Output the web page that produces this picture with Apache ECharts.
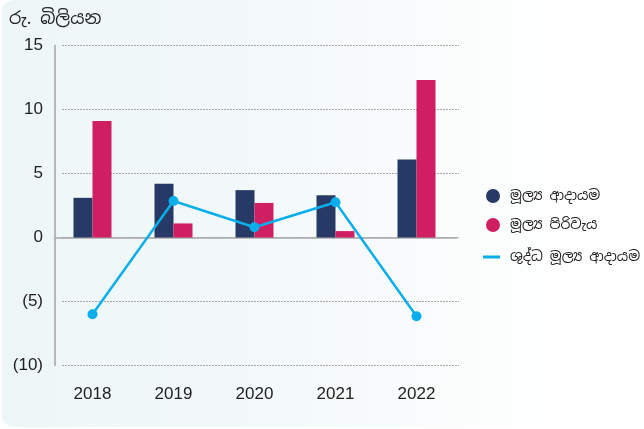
<!DOCTYPE html>
<html>
<head>
<meta charset="utf-8">
<script src="https://cdn.jsdelivr.net/npm/echarts@6/dist/echarts.min.js"></script>
<style>
html,body{margin:0;padding:0;background:#ffffff;}
#panel{position:absolute;left:2px;top:0;width:642px;height:427px;border-radius:12px;
background:linear-gradient(90deg,#edf6f6 0%,#f4f9fa 45%,#fdfefe 80%,#ffffff 100%);}
#chart{position:absolute;left:0;top:0;width:644px;height:429px;}
</style>
</head>
<body>
<div id="panel"></div>
<div id="chart"></div>
<script>
const categories = ['2018', '2019', '2020', '2021', '2022'];
const financeIncome = [3.1, 4.2, 3.7, 3.3, 6.1];
const financeCost = [9.1, 1.1, 2.7, 0.5, 12.3];
const netFinanceIncome = [-6.0, 2.85, 0.8, 2.75, -6.15];
const yTicks = { min: -10, max: 15, interval: 5 };
const seriesNames = ['මූල්\u200Dය ආදායම', 'මූල්\u200Dය පිරිවැය', 'ශුද්ධ මූල්\u200Dය ආදායම'];
const unitLabel = 'රු. බිලියන';

const numFont = '"Liberation Sans", Arial, sans-serif';
const sinFont = '"Noto Sans Sinhala", "Noto Sans", "Liberation Sans", sans-serif';
const NAVY = '#273a66', PINK = '#d01e62', BLUE = '#0aaeea';

function fmt(v){ return v < 0 ? '(' + Math.abs(v) + ')' : String(v); }

const chart = echarts.init(document.getElementById('chart'), null, {renderer:'canvas'});
chart.setOption({
  backgroundColor: 'transparent',
  animation: false,
  title: {
    text: unitLabel, left: 4, top: 5,
    textStyle: { fontFamily: sinFont, fontSize: 17.5, fontWeight: 'normal', color: '#222' }
  },
  grid: [
    { left: 52, width: 405, top: 45.5, height: 320 },
    { left: 62, width: 397, top: 45.5, height: 320 },
    { left: 55, width: 402, top: 45.5, height: 320 }
  ],
  xAxis: [
    { gridIndex: 0, type: 'category', data: categories,
      axisLine: { show: false, onZero: false }, axisTick: { show: false },
      axisLabel: { margin: 20, fontFamily: numFont, fontSize: 17, color: '#222' } },
    { gridIndex: 1, type: 'category', data: categories, show: false },
    { gridIndex: 2, type: 'category', data: categories,
      axisLine: { show: true, onZero: true, lineStyle: { color: '#a6a6a6', width: 1.5 } },
      axisTick: { show: false }, axisLabel: { show: false } }
  ],
  yAxis: [
    { gridIndex: 0, type: 'value', min: yTicks.min, max: yTicks.max, interval: yTicks.interval,
      axisLine: { show: false }, axisTick: { show: false }, splitLine: { show: false },
      axisLabel: { margin: 9, formatter: fmt, fontFamily: numFont, fontSize: 17, color: '#222' } },
    { gridIndex: 1, type: 'value', min: yTicks.min, max: yTicks.max, interval: yTicks.interval,
      axisLine: { show: false }, axisTick: { show: false }, axisLabel: { show: false },
      splitLine: { show: true, lineStyle: { color: '#a9a9a9', width: 1, type: [2, 1] } } },
    { gridIndex: 2, type: 'value', min: yTicks.min, max: yTicks.max, interval: yTicks.interval,
      axisLine: { show: true, lineStyle: { color: '#a6a6a6', width: 1.5 } },
      axisTick: { show: false }, axisLabel: { show: false }, splitLine: { show: false } }
  ],
  legend: [
    { data: [{ name: seriesNames[0], icon: 'circle' }, { name: seriesNames[1], icon: 'circle' }],
      orient: 'vertical', left: 481, top: 183, itemWidth: 14, itemHeight: 14, itemGap: 13,
      textStyle: { fontFamily: sinFont, fontSize: 14, color: '#222', padding: [0, 0, 0, 5], lineHeight: 16 } },
    { data: [{ name: seriesNames[2], icon: 'rect' }],
      orient: 'vertical', left: 478, top: 244, itemWidth: 17, itemHeight: 3,
      textStyle: { fontFamily: sinFont, fontSize: 14, color: '#222', padding: [0, 0, 0, 5], lineHeight: 16 } }
  ],
  series: [
    { name: seriesNames[0], type: 'bar', xAxisIndex: 0, yAxisIndex: 0, data: financeIncome,
      barWidth: 19, barGap: '0%', itemStyle: { color: NAVY } },
    { name: seriesNames[1], type: 'bar', xAxisIndex: 0, yAxisIndex: 0, data: financeCost,
      barWidth: 19, barGap: '0%', itemStyle: { color: PINK } },
    { name: seriesNames[2], type: 'line', xAxisIndex: 0, yAxisIndex: 0, data: netFinanceIncome,
      symbol: 'circle', symbolSize: 10, lineStyle: { color: BLUE, width: 2.5 },
      itemStyle: { color: BLUE }, z: 5 }
  ]
});
</script>
</body>
</html>
